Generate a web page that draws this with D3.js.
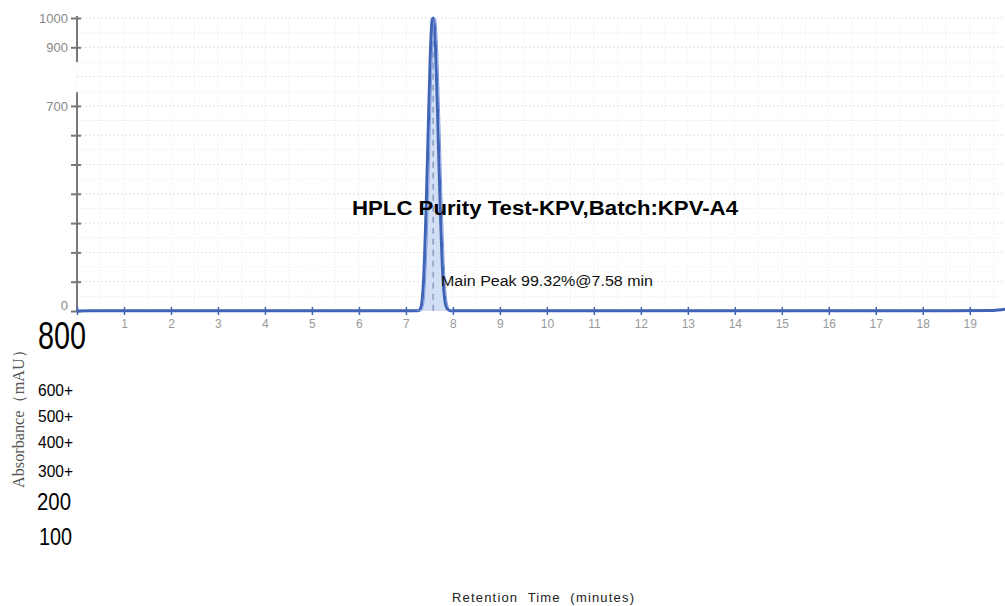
<!DOCTYPE html>
<html>
<head>
<meta charset="utf-8">
<script src="https://cdn.jsdelivr.net/npm/d3@7"></script>
<style>
  body { margin: 0; background: #fff; }
  svg { display: block; font-family: Arial, "Liberation Sans", sans-serif; }
</style>
</head>
<body>
<div id="chart"></div>
<script>
// chart size
var width = 1005;
var height = 606;

// signal (minutes, mAU)
var times = [0, 1, 2, 3, 4, 5, 6, 7, 7.2, 7.28, 7.33, 7.38, 7.43, 7.48, 7.53, 7.56, 7.58, 7.6, 7.63, 7.68, 7.73, 7.78, 7.83, 7.88, 7.95, 8.5, 10, 12, 14, 16, 18, 19.5, 19.75];
var signal = [0, 1, 1, 1, 1, 1, 1, 1, 1, 2, 20, 120, 350, 650, 920, 995, 1000, 985, 900, 640, 360, 140, 35, 8, 1, 1, 1, 1, 1, 1, 1, 2, 6];

var peakTime = 7.58;
var xTicks = d3.range(0, 20);
var xTickLabels = d3.range(1, 20);
var yTicks = [0, 100, 200, 300, 400, 500, 600, 700, 900, 1000];
var yTickLabels = [1000, 900, 700, 0];
var strayLabels = ["800", "600+", "500+", "400+", "300+", "200", "100"];

var title = "HPLC Purity Test-KPV,Batch:KPV-A4";
var peakNote = "Main Peak 99.32%@7.58 min";
var yTitle = "Absorbance\uFF08mAU\uFF09";
var xTitle = "Retention  Time  (minutes)";

var svg = d3.select("#chart").append("svg")
  .attr("width", width)
  .attr("height", height);

var xScale = d3.scaleLinear().domain([0, 19.75]).range([77, 1005]);
var yScale = d3.scaleLinear().domain([0, 1000]).range([311, 18]);

// faint dotted grid
svg.append("g")
  .selectAll("line.vg")
  .data(d3.range(0, 20, 0.5))
  .enter().append("line")
  .attr("x1", d => xScale(d)).attr("x2", d => xScale(d))
  .attr("y1", yScale(1000)).attr("y2", yScale(0))
  .attr("stroke", "#ececec")
  .attr("stroke-dasharray", "1,2");

svg.append("g")
  .selectAll("line.hg")
  .data(d3.range(50, 1001, 50))
  .enter().append("line")
  .attr("x1", xScale(0)).attr("x2", xScale(19.75))
  .attr("y1", d => yScale(d)).attr("y2", d => yScale(d))
  .attr("stroke", d => d % 100 == 0 ? "#e2e2e2" : "#f0f0f0")
  .attr("stroke-dasharray", "2,2");

// y axis, with the gap near 800
var yAxis = d3.axisLeft(yScale)
  .tickValues(yTicks)
  .tickSize(6)
  .tickFormat(d => yTickLabels.indexOf(d) >= 0 ? d : "");

var yG = svg.append("g")
  .attr("transform", "translate(" + xScale(0) + ",0)")
  .call(yAxis);
yG.select(".domain").remove();
yG.selectAll(".tick line").attr("stroke", "#777").attr("stroke-width", 2).attr("x2", 4).attr("x1", -6);
yG.selectAll(".tick text").attr("fill", "#888").attr("font-size", 13).attr("x", -9)
  .attr("dy", d => d == 0 ? "-0.15em" : "0.32em");

[[1000, 850], [740, 0]].forEach(function(seg) {
  svg.append("line")
    .attr("x1", xScale(0)).attr("x2", xScale(0))
    .attr("y1", yScale(seg[0]) - 2).attr("y2", yScale(seg[1]))
    .attr("stroke", "#777").attr("stroke-width", 2);
});

// x axis
var xAxis = d3.axisBottom(xScale).tickValues(xTicks).tickSize(0)
  .tickFormat(d => xTickLabels.indexOf(d) >= 0 ? d : "");
var xG = svg.append("g")
  .attr("transform", "translate(0," + yScale(0) + ")")
  .call(xAxis);
xG.select(".domain").remove();
xG.selectAll(".tick text").attr("fill", "#999").attr("font-size", 12).attr("dy", "1.2em");
xG.selectAll(".tick").append("line")
  .attr("y1", -4).attr("y2", 4)
  .attr("stroke", "#3f63b5").attr("stroke-width", 1.5);

// chromatogram
var data = times.map((t, i) => ({ t: t, v: signal[i] }));

var area = d3.area()
  .x(d => xScale(d.t))
  .y0(yScale(0))
  .y1(d => yScale(d.v))
  .curve(d3.curveMonotoneX);

var line = d3.line()
  .x(d => xScale(d.t))
  .y(d => yScale(d.v))
  .curve(d3.curveMonotoneX);

var peakData = data.filter(d => d.t >= 7.2 && d.t <= 7.95);

svg.append("path")
  .datum(peakData)
  .attr("d", area)
  .attr("fill", "#c9d8f2")
  .attr("opacity", 0.85);

svg.append("line")
  .attr("x1", xScale(peakTime)).attr("x2", xScale(peakTime))
  .attr("y1", yScale(960)).attr("y2", yScale(0))
  .attr("stroke", "#8a9cc4")
  .attr("stroke-width", 1.5)
  .attr("stroke-dasharray", "6,5");

svg.append("path")
  .datum(data)
  .attr("d", line)
  .attr("fill", "none")
  .attr("stroke", "#3f63b5")
  .attr("stroke-width", 3)
  .attr("stroke-linejoin", "round");

svg.append("path")
  .datum(peakData)
  .attr("d", line)
  .attr("fill", "none")
  .attr("stroke", "#7f9be0")
  .attr("stroke-width", 1)
  .attr("transform", "translate(2,0)");

// texts over the plot
svg.append("text")
  .attr("x", 352).attr("y", 215)
  .attr("font-size", 20).attr("font-weight", "bold")
  .attr("textLength", 386).attr("lengthAdjust", "spacingAndGlyphs")
  .attr("fill", "#000")
  .text(title);

svg.append("text")
  .attr("x", 441).attr("y", 286)
  .attr("font-size", 14)
  .attr("textLength", 212).attr("lengthAdjust", "spacingAndGlyphs")
  .attr("fill", "#111")
  .text(peakNote);

// leftover labels under the plot
var strayY = [349, 396, 422, 448, 477, 510, 545];
var straySize = [38, 16, 16, 16, 16, 23, 23];
var strayLen = [48, 35, 35, 35, 35, 34, 33];
var strayX = [38, 38, 38, 38, 38, 37, 39];

svg.append("g")
  .selectAll("text")
  .data(strayLabels)
  .enter().append("text")
  .attr("x", (d, i) => strayX[i])
  .attr("y", (d, i) => strayY[i])
  .attr("font-size", (d, i) => straySize[i])
  .attr("textLength", (d, i) => strayLen[i])
  .attr("lengthAdjust", "spacingAndGlyphs")
  .attr("fill", "#000")
  .text(d => d);

svg.append("text")
  .attr("transform", "translate(24,488) rotate(-90)")
  .attr("font-family", "'Liberation Serif', 'DejaVu Serif', serif")
  .attr("font-size", 16)
  .attr("textLength", 146).attr("lengthAdjust", "spacingAndGlyphs")
  .attr("fill", "#555")
  .text(yTitle);

svg.append("text")
  .attr("x", 452).attr("y", 602)
  .attr("font-size", 13)
  .attr("textLength", 182).attr("lengthAdjust", "spacing")
  .attr("fill", "#222")
  .style("white-space", "pre")
  .text(xTitle);
</script>
</body>
</html>
